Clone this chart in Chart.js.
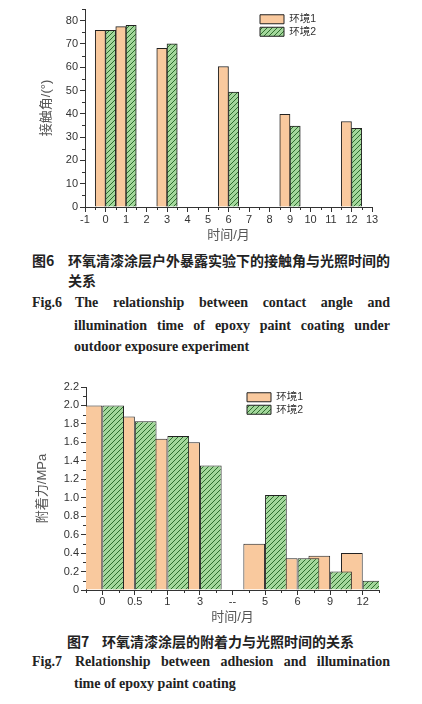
<!DOCTYPE html>
<html>
<head>
<meta charset="utf-8">
<script src="https://cdn.jsdelivr.net/npm/chart.js@4.4.1/dist/chart.umd.min.js"></script>
<style>
body { margin: 0; background: #fff; }
#page { position: relative; width: 422px; height: 704px; overflow: hidden; background: #fff; }
canvas { position: absolute; left: 0; }
.cn { position: absolute; font: bold 14px/20px 'Noto Sans CJK SC', sans-serif; color: #222; white-space: nowrap; }
.en { position: absolute; font: bold 14px/22px 'Liberation Serif', serif; color: #222; }
.just { text-align: justify; text-align-last: justify; }
</style>
</head>
<body>
<div id="page">
  <canvas id="c1" width="422" height="245" style="top:0;width:422px;height:245px"></canvas>

  <div class="cn" style="left:32px;top:250px">图6</div>
  <div class="cn just" style="left:68px;top:250px;width:322px">环氧清漆涂层户外暴露实验下的接触角与光照时间的</div>
  <div class="cn" style="left:68px;top:270px">关系</div>
  <div class="en" style="left:32px;top:292px">Fig.6</div>
  <div class="en just" style="left:75px;top:292px;width:315px">The relationship between contact angle and</div>
  <div class="en just" style="left:74px;top:315px;width:316px">illumination time of epoxy paint coating under</div>
  <div class="en" style="left:74px;top:336px">outdoor exposure experiment</div>

  <canvas id="c2" width="422" height="256" style="top:370px;width:422px;height:256px"></canvas>

  <div class="cn" style="left:67px;top:631px">图7</div>
  <div class="cn" style="left:102px;top:631px">环氧清漆涂层的附着力与光照时间的关系</div>
  <div class="en" style="left:32px;top:651px">Fig.7</div>
  <div class="en just" style="left:75px;top:651px;width:315px">Relationship between adhesion and illumination</div>
  <div class="en" style="left:74px;top:673px">time of epoxy paint coating</div>
</div>

<script>
// Fig.6 contact angle
const months = [0, 1, 3, 6, 9, 12];
const angleEnv1 = [75.8, 77.4, 68.1, 60.3, 39.8, 36.7];
const angleEnv2 = [75.8, 78.0, 70.1, 49.3, 34.7, 33.8];

// Fig.7 adhesion
const timeLabels = ['0', '0.5', '1', '3', '--', '5', '6', '9', '12'];
const adhesionEnv1 = [2.0, 1.88, 1.64, 1.6, null, 0.5, 0.344, 0.37, 0.4];
const adhesionEnv2 = [2.0, 1.83, 1.67, 1.35, null, 1.03, 0.344, 0.2, 0.1];

const seriesNames = ['环境1', '环境2'];

Chart.defaults.font.family = "'Liberation Sans', 'Noto Sans CJK SC', sans-serif";
Chart.defaults.color = '#333';

const orange = '#f9c99e';
const edge = '#222';

function hatch() {
    const c = document.createElement('canvas');
    c.width = c.height = 5;
    const g = c.getContext('2d');
    g.fillStyle = '#a3d79b';
    g.fillRect(0, 0, 5, 5);
    g.strokeStyle = '#2f6e2f';
    g.lineWidth = 1;
    g.beginPath();
    g.moveTo(0, 5); g.lineTo(5, 0);
    g.moveTo(-1, 1); g.lineTo(1, -1);
    g.moveTo(4, 6); g.lineTo(6, 4);
    g.stroke();
    return g.createPattern(c, 'repeat');
}

// put the chartArea legend where the figure has it
const legendSpot = {
    id: 'legendSpot',
    afterLayout(chart, args, opts) {
        chart.legend.left = opts.left;
        chart.legend.top = opts.top;
    }
};

// Origin-style minor tick marks half way between the major ones
const minorTicks = {
    id: 'minorTicks',
    afterDraw(chart) {
        const ctx = chart.ctx;
        ctx.save();
        ctx.strokeStyle = '#333';
        ctx.lineWidth = 1;
        ctx.beginPath();
        Object.values(chart.scales).forEach(s => {
            const v = s.ticks.map(t => t.value);
            const half = (v[1] - v[0]) / 2;
            [v[0] - half, ...v.map(t => t + half)].forEach(m => {
                const p = s.getPixelForValue(m);
                if (s.isHorizontal()) {
                    if (p < s.left - 0.5 || p > s.right + 0.5) return;
                    const px = Math.round(p) + 0.5;
                    ctx.moveTo(px, s.top);
                    ctx.lineTo(px, s.top + 3);
                } else {
                    if (p < s.top - 0.5 || p > s.bottom + 0.5) return;
                    const py = Math.round(p) + 0.5;
                    ctx.moveTo(s.right, py);
                    ctx.lineTo(s.right - 3, py);
                }
            });
        });
        ctx.stroke();
        ctx.restore();
    }
};

// draw datasets in index order so the hatched series sits on top
const greenOnTop = {
    id: 'greenOnTop',
    beforeDatasetsDraw(chart) {
        chart.getSortedVisibleDatasetMetas().forEach(m => chart._drawDataset(m));
        return false;
    }
};

const gridOpts = { offset: false, drawOnChartArea: false, color: '#333', tickLength: 5 };
const legendOpts = {
    position: 'chartArea',
    align: 'start',
    labels: { boxWidth: 24, boxHeight: 9, padding: 2, color: '#333', font: { size: 10.5 } }
};

new Chart(document.getElementById('c1'), {
    type: 'bar',
    data: {
        datasets: [{
            label: seriesNames[0],
            data: months.map((m, i) => ({ x: m, y: angleEnv1[i] })),
            backgroundColor: orange,
            borderColor: edge,
            borderWidth: 1
        }, {
            label: seriesNames[1],
            data: months.map((m, i) => ({ x: m, y: angleEnv2[i] })),
            backgroundColor: hatch(),
            borderColor: edge,
            borderWidth: 1
        }]
    },
    options: {
        responsive: false,
        animation: false,
        datasets: { bar: { categoryPercentage: 1, barPercentage: 1 } },
        layout: { padding: { top: 9, right: 50, left: 0, bottom: 0 } },
        scales: {
            x: {
                type: 'linear', min: -1, max: 13, offset: false,
                grid: gridOpts,
                border: { color: '#333' },
                ticks: { stepSize: 1, autoSkip: false, maxRotation: 0, padding: 1, font: { size: 11 } },
                title: { display: true, text: '时间/月', color: '#555', font: { size: 13 }, padding: { top: 0, bottom: 2 } },
                afterFit: s => { s.height = 38; }
            },
            y: {
                min: 0, max: 85,
                grid: gridOpts,
                border: { color: '#333' },
                ticks: { stepSize: 10, includeBounds: false, padding: 2, font: { size: 11 } },
                title: { display: true, text: '接触角/(°)', color: '#555', font: { size: 13 }, padding: { top: 39, bottom: 0 } },
                afterFit: s => { s.width = 85; }
            }
        },
        plugins: {
            legend: legendOpts,
            legendSpot: { left: 258, top: 12 },
            tooltip: { enabled: false }
        }
    },
    plugins: [legendSpot, minorTicks]
});

new Chart(document.getElementById('c2'), {
    type: 'bar',
    data: {
        labels: timeLabels,
        datasets: [{
            label: seriesNames[0],
            data: adhesionEnv1,
            backgroundColor: orange,
            borderColor: edge,
            borderWidth: 1,
            clip: 0
        }, {
            label: seriesNames[1],
            data: adhesionEnv2,
            backgroundColor: hatch(),
            borderColor: edge,
            borderWidth: 1,
            clip: 0
        }]
    },
    options: {
        responsive: false,
        animation: false,
        datasets: { bar: { categoryPercentage: 4 / 3, barPercentage: 1 } },
        layout: { padding: { top: 17, right: 43, left: 0, bottom: 0 } },
        scales: {
            x: {
                offset: true,
                grid: gridOpts,
                border: { color: '#333' },
                ticks: { autoSkip: false, maxRotation: 0, padding: 0, font: { size: 11 } },
                title: { display: true, text: '时间/月', color: '#555', font: { size: 13 }, padding: { top: 0, bottom: 1 } },
                afterFit: s => { s.height = 36; }
            },
            y: {
                min: 0, max: 2.2,
                grid: gridOpts,
                border: { color: '#333' },
                ticks: { stepSize: 0.2, padding: 2, font: { size: 11 }, callback: v => v === 0 ? '0' : v.toFixed(1) },
                title: { display: true, text: '附着力/MPa', color: '#555', font: { size: 13 }, padding: { top: 35, bottom: 0 } },
                afterFit: s => { s.width = 86; }
            }
        },
        plugins: {
            legend: legendOpts,
            legendSpot: { left: 245, top: 20 },
            tooltip: { enabled: false }
        }
    },
    plugins: [legendSpot, minorTicks, greenOnTop]
});
</script>
</body>
</html>
